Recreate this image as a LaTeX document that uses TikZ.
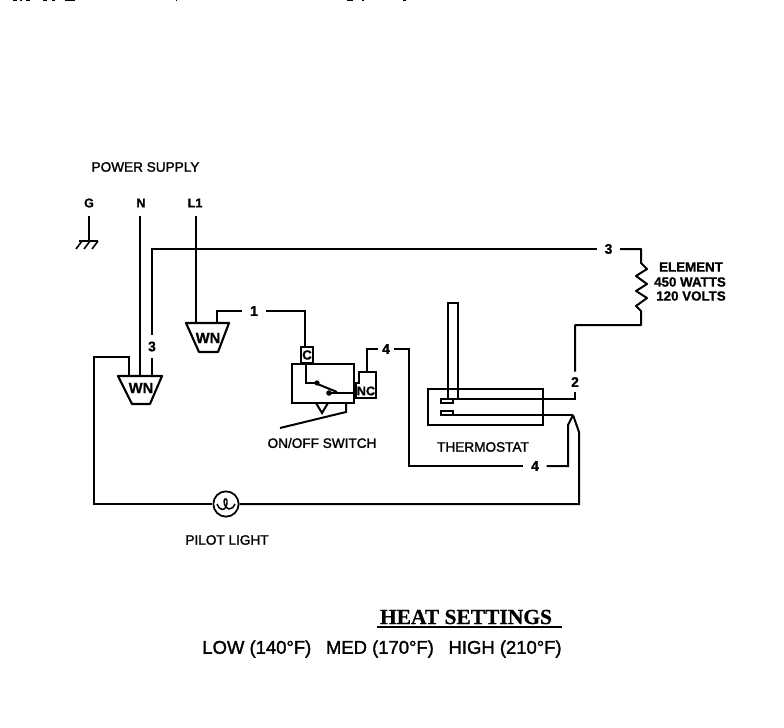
\documentclass[tikz,border=0pt]{standalone}
\usepackage{fontspec}
\setmainfont{Liberation Sans}
\newfontfamily\scanfont{Liberation Sans}[FakeBold=1.6]
\newfontfamily\heavyfont{Liberation Sans Bold}[FakeBold=1]
\newfontfamily\serifheavy{Liberation Serif Bold}[FakeBold=0.6]
\usetikzlibrary{shapes.geometric}
\tikzset{
  wire/.style={draw=black,line width=1.5pt,line join=miter,line cap=butt},
  thin wire/.style={draw=black,line width=1.2pt},
  lab/.style={font=\scanfont\fontsize{10.2pt}{11pt}\selectfont,inner sep=0pt,text=black},
  head/.style={font=\heavyfont\fontsize{9.5pt}{10pt}\selectfont,inner sep=0pt,text=black},
  elem/.style={font=\heavyfont\fontsize{10pt}{11pt}\selectfont,inner sep=0pt,text=black},
  num/.style={font=\heavyfont\fontsize{10.5pt}{11pt}\selectfont,inner sep=0pt,text=black,
     minimum width=17pt,minimum height=17pt},
  wn/.style={font=\heavyfont\fontsize{11pt}{12pt}\selectfont,inner sep=0pt}
}
\begin{document}
\begin{tikzpicture}[x=0.75pt,y=-0.75pt]
\useasboundingbox (0,0) rectangle (784,727);
% cut-off marks at the very top edge
\foreach \a/\b in {13/17,20/22,26/30,43/47,52/55,65/75,176/177,347/353,362/364,403/406}
  \fill[black] (\a,0) rectangle (\b,1);
% Labels
\node[lab] (ps) at (145.5,167) {POWER SUPPLY};
\node[head] (g) at (89,203) {G};
\node[head] (n) at (141,203) {N};
\node[head] (l1) at (195,203) {L1};
\node[num] (w3a) at (152,346.5) {3};
\node[num] (w3b) at (608.5,249) {3};
\node[num] (w1) at (254,311) {1};
\node[num,minimum width=11pt] (w4a) at (386,349) {4};
\node[num] (w4b) at (535,466) {4};
\node[num,minimum height=15pt] (w2) at (575,382) {2};
\node[lab] (sw) at (322,443) {ON/OFF SWITCH};
\node[lab] (th) at (483,447) {THERMOSTAT};
\node[lab] (pl) at (227,540) {PILOT LIGHT};
\node[elem] (el1) at (691,267) {ELEMENT};
\node[elem] (el2) at (690,282) {450 WATTS};
\node[elem] (el3) at (691,296) {120 VOLTS};
% Wire nuts
\coordinate (a1) at (118,376); \coordinate (a2) at (162,376);
\coordinate (a3) at (150,404); \coordinate (a4) at (132,404);
\draw[wire,line width=1.6pt,line join=round] (a1)--(a2)--(a3)--(a4)--cycle;
\node[wn] (wnA) at (141,388) {WN};
\coordinate (b1) at (186,323); \coordinate (b2) at (229,323);
\coordinate (b3) at (218,352); \coordinate (b4) at (199,352);
\draw[wire,line width=1.6pt,line join=round] (b1)--(b2)--(b3)--(b4)--cycle;
\node[wn] (wnB) at (208,338) {WN};
% Terminal coordinates
\coordinate (aN) at (140,376); \coordinate (a3w) at (152,376); \coordinate (aP) at (129,376);
\coordinate (bL) at (196,323); \coordinate (b1w) at (217,323);
\coordinate (nTop) at (140,216); \coordinate (lTop) at (196,216);
% Ground
\coordinate (gt) at (89,216); \coordinate (gb) at (89,241);
\draw[wire] (gt)--(gb);
\draw[wire] (79,241)--(98,241);
\foreach \x in {82,90,98} \draw[thin wire] (\x,241)--(\x-6,249);
% Supply wires
\draw[wire] (nTop) -- (aN);
\draw[wire] (lTop) -- (bL);
\draw[wire] (w3a.north) |- (w3b.west);
\draw[wire] (w3a.south) -- (a3w);
\draw[wire] (b1w) |- (w1.west);
\coordinate (cTop) at (305,347);
\draw[wire] (w1.east) -| (cTop);
% Switch
\draw[wire] (292,364) rectangle (354,403);
\node[draw=black,line width=1.3pt,fill=white,minimum width=9pt,minimum height=12pt,inner sep=0pt,font=\heavyfont\fontsize{10pt}{10pt}\selectfont] (cterm) at (307,355) {C};
\draw[wire] (306,362) -- (306,383) -- (315,383);
\draw[wire] (315,383) -- (337,392);
\fill (317,383) circle (2.6);
\fill (329,393) circle (2.8);
\draw[wire] (329,393) -- (354,393);
\draw[wire,line join=miter] (316,403) -- (322,413) -- (328,403);
\draw[wire] (346,403) -- (346,412) -- (280,428);
% NC
\draw[wire,line width=1.3pt] (359,383) -- (359,372) -- (376,372) -- (376,398) -- (356,398) -- (356,383) -- cycle;
\node[lab,font=\heavyfont\fontsize{9.5pt}{9pt}\selectfont] (nc) at (366,391) {NC};
\coordinate (ncTop) at (367,372);
\draw[wire] (ncTop) |- (w4a.west);
\coordinate (p4) at (409,349);
\draw[wire] (w4a.east) -- (p4) |- (w4b.west);
\draw[wire] (w4b.east) -- (568,466) -- (568,425) -- (573,415);
% Thermostat
\draw[wire,line width=1.3pt] (428,389) rectangle (543,425);
\draw[wire,line width=1.3pt] (448,399) -- (448,303) -- (458,303) -- (458,399);
\draw[wire,line width=1.3pt] (441,399) rectangle (453,403);
\draw[wire,line width=1.3pt] (441,411) rectangle (453,415);
\draw[wire] (453,399) -| (w2.south);
\draw[wire] (453,415) -- (573,415);
% Element
\draw[wire,line join=round] (w3b.east) -- (641,249) -- (641,263) -- (647,269) -- (636,276) -- (647,284) -- (636,291) -- (647,298) -- (636,306) -- (641,311) -- (641,325) -| (w2.north);
% Pilot light
\node[circle,draw=black,line width=1.3pt,minimum size=19pt,inner sep=0pt] (pilot) at (226,504) {};
\draw[line width=1.1pt] (217,504) .. controls (219,510) and (224,511) .. (226,507) .. controls (228,502) and (227,498) .. (225,499) .. controls (223,500) and (224,508) .. (229,509) .. controls (232,509) and (234,507) .. (235,504);
\draw[wire] (aP) -- (129,357) -- (94,357) |- (pilot.west);
\draw[wire] (pilot.east) -- (579,504) -- (579,432) -- (573,415);
% Heat settings
\node[inner sep=0pt,font=\serifheavy\fontsize{16.1pt}{17pt}\selectfont] (hs) at (466,617) {HEAT SETTINGS};
\coordinate (u1) at (377,627); \coordinate (u2) at (562,627);
\draw[line width=0.9pt] (u1) -- (u2);
\node[inner sep=0pt,font=\scanfont\fontsize{13.85pt}{15pt}\selectfont] (set) at (382,649) {LOW (140°F)\hspace{11pt}MED (170°F)\hspace{11pt}HIGH (210°F)};
\end{tikzpicture}
\end{document}
